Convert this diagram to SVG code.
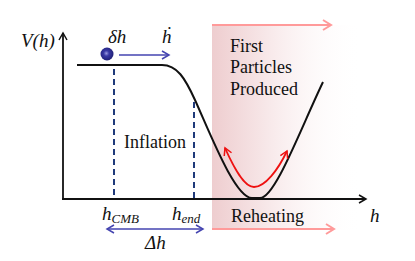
<svg xmlns="http://www.w3.org/2000/svg" width="415" height="261" viewBox="0 0 415 261">
<defs>
<linearGradient id="pinkGrad" x1="0" y1="0" x2="1" y2="0">
<stop offset="0" stop-color="#eecdcf"/>
<stop offset="0.4" stop-color="#f8eaeb"/>
<stop offset="1" stop-color="#ffffff" stop-opacity="0"/>
</linearGradient>
<radialGradient id="ball" cx="0.45" cy="0.45" r="0.6">
<stop offset="0" stop-color="#9a9ae0"/>
<stop offset="0.35" stop-color="#3a3aa6"/>
<stop offset="1" stop-color="#1c1c70"/>
</radialGradient>
<marker id="arrK" markerUnits="userSpaceOnUse" markerWidth="12" markerHeight="12" refX="8" refY="5" orient="auto-start-reverse" viewBox="0 0 12 10">
<path d="M1,1 L8,5 L1,9" fill="none" stroke="#111" stroke-width="1.5"/>
</marker>
<marker id="arrB" markerUnits="userSpaceOnUse" markerWidth="12" markerHeight="12" refX="8" refY="5" orient="auto-start-reverse" viewBox="0 0 12 10">
<path d="M1,1 L8,5 L1,9" fill="none" stroke="#4444b0" stroke-width="1.5"/>
</marker>
<marker id="arrP" markerUnits="userSpaceOnUse" markerWidth="14" markerHeight="14" refX="9" refY="6" orient="auto-start-reverse" viewBox="0 0 14 12">
<path d="M1,1 L9,6 L1,11" fill="none" stroke="#ff9a9a" stroke-width="2"/>
</marker>
<marker id="arrR" markerUnits="userSpaceOnUse" markerWidth="12" markerHeight="12" refX="8" refY="5" orient="auto-start-reverse" viewBox="0 0 12 10">
<path d="M1,1 L8,5 L1,9" fill="none" stroke="#ee1111" stroke-width="1.5"/>
</marker>
</defs>
<style>
.dash { stroke: #1f3a7a; stroke-width: 2; stroke-dasharray: 6 4; fill: none; }
.axis { stroke: #111; stroke-width: 1.8; fill: none; }
</style>

<g id="reheating-band">
<rect x="212" y="25" width="150" height="205" fill="url(#pinkGrad)"/>
</g>

<g id="connectors">
<line class="axis" x1="63" y1="200" x2="63" y2="33" marker-end="url(#arrK)"/>
<line class="axis" x1="62" y1="199" x2="366" y2="199" marker-end="url(#arrK)"/>
<path d="M77,65 H162 C177,65 185,78 195,100 C210,133 235,198 252,198 L260,198 C275,198 300,130 323,82" fill="none" stroke="#111" stroke-width="2"/>
<line class="dash" x1="114" y1="69" x2="114" y2="198"/>
<line class="dash" x1="194" y1="102" x2="194" y2="198"/>
<line x1="119" y1="55" x2="169" y2="55" stroke="#4444b0" stroke-width="1.6" marker-end="url(#arrB)"/>
<line x1="107" y1="229" x2="203" y2="229" stroke="#4444b0" stroke-width="1.6" marker-start="url(#arrB)" marker-end="url(#arrB)"/>
<line x1="212" y1="25" x2="331" y2="25" stroke="#ff9a9a" stroke-width="2" marker-end="url(#arrP)"/>
<line x1="212" y1="229" x2="334" y2="229" stroke="#ff9a9a" stroke-width="2" marker-end="url(#arrP)"/>
<path d="M225,148 C234,168 244,187 254,187 C265,187 278,170 287,151" fill="none" stroke="#ee1111" stroke-width="1.8" marker-start="url(#arrR)" marker-end="url(#arrR)"/>
</g>

<g id="ball">
<circle cx="107" cy="54" r="6.5" fill="url(#ball)"/>
</g>

<g id="labels" font-family="'Liberation Serif', 'Times New Roman', serif" fill="#111">
<g font-size="18">
<text x="230" y="52">First</text>
<text x="230" y="73">Particles</text>
<text x="230" y="95">Produced</text>
<text x="124" y="148">Inflation</text>
<text x="231" y="222">Reheating</text>
</g>
<g font-style="italic" font-size="19">
<text x="21" y="47">V(h)</text>
<text x="108" y="43">δh</text>
<text x="162" y="43">ḣ</text>
<text x="370" y="222">h</text>
<text x="102" y="220">h<tspan font-size="13" dy="3">CMB</tspan></text>
<text x="172" y="220">h<tspan font-size="13" dy="3">end</tspan></text>
<text x="145" y="249">Δh</text>
</g>
</g>
</svg>
